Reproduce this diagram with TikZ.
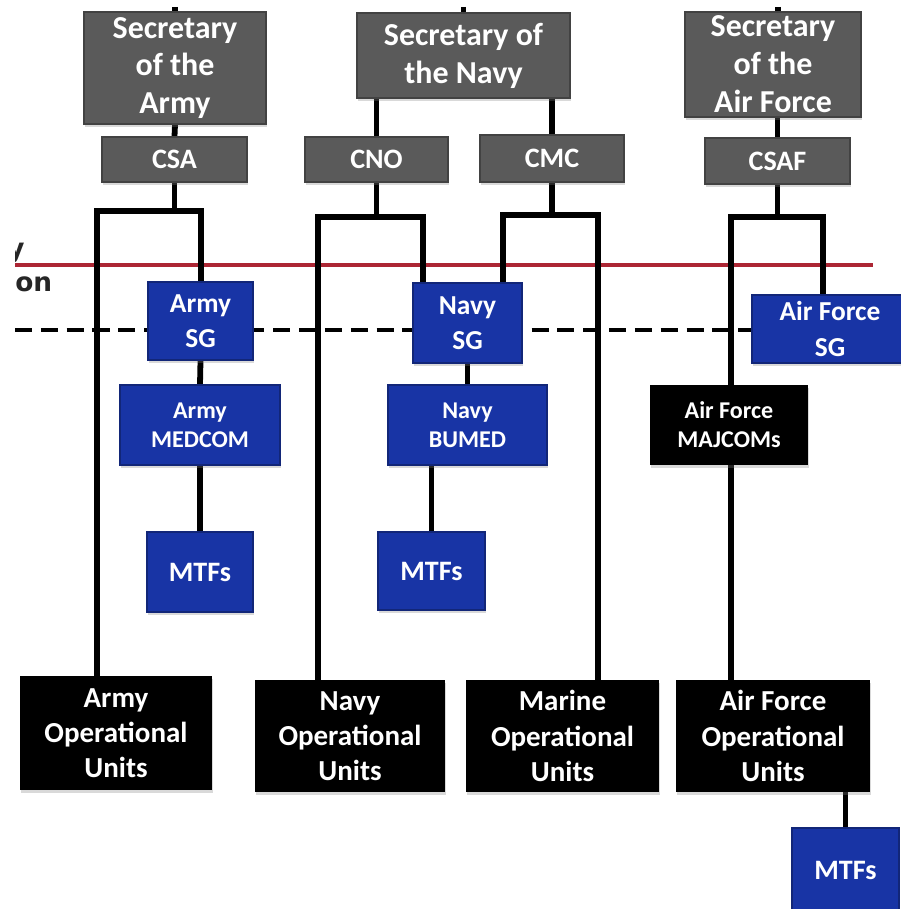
\documentclass[tikz,border=0pt]{standalone}
\usepackage{fontspec}
\setmainfont{Carlito}
\newfontfamily\sidefont{DejaVu Sans}
\usetikzlibrary{shadows,backgrounds}
\definecolor{secgray}{RGB}{90,90,90}
\definecolor{secedge}{RGB}{66,66,66}
\definecolor{sgblue}{RGB}{24,52,165}
\definecolor{sgedge}{RGB}{18,38,120}
\definecolor{policyred}{RGB}{172,38,52}
\tikzset{
  orgbox/.style   = {rectangle,inner sep=0pt,align=center,text=white,
                     drop shadow={shadow xshift=0.6pt,shadow yshift=-1.6pt,opacity=0.3}},
  sz/.style 2 args = {minimum width=#1*0.02cm,minimum height=#2*0.02cm},
  graybox/.style  = {orgbox,fill=secgray,draw=secedge,line width=0.8pt},
  bluebox/.style  = {orgbox,fill=sgblue,draw=sgedge,line width=0.8pt},
  blackbox/.style = {orgbox,fill=black},
  secfont/.style  = {font=\fontsize{18.2}{21.6}\selectfont\bfseries},
  chieffont/.style= {font=\fontsize{16}{19}\selectfont\bfseries},
  sgfont/.style   = {font=\fontsize{15.6}{20}\selectfont\bfseries},
  medfont/.style  = {font=\fontsize{13.7}{16.5}\selectfont\bfseries},
  opfont/.style   = {font=\fontsize{16.5}{20}\selectfont\bfseries},
  link/.style     = {line width=3.3pt,black},
  policyline/.style = {line width=2.1pt,policyred},
  execline/.style = {line width=2.8pt,black,dash pattern=on 9.7pt off 5pt}
}

\begin{document}
\begin{tikzpicture}[x=0.02cm,y=-0.02cm]
  \useasboundingbox (0,0) rectangle (901,909);

  % secretaries
  \node[graybox,sz={182}{112},secfont] (secA) at (175,68)     {Secretary\\of the\\Army};
  \node[graybox,sz={213}{85},secfont]  (secN) at (463.5,55.5) {Secretary of\\the Navy};
  \node[graybox,sz={176}{105},secfont] (secF) at (773,64.5)   {Secretary\\of the\\Air Force};

  % service chiefs
  \node[graybox,sz={145}{45},chieffont] (csa)  at (174.5,159.5) {CSA};
  \node[graybox,sz={143}{45},chieffont] (cno)  at (376.5,159.5) {CNO};
  \node[graybox,sz={144}{47},chieffont] (cmc)  at (552,158.5)   {CMC};
  \node[graybox,sz={145}{46},chieffont] (csaf) at (777.5,161)   {CSAF};

  % surgeons general
  \node[bluebox,sz={105}{78},sgfont]  (armySG) at (200.5,321) {Army\\SG};
  \node[bluebox,sz={109}{80},sgfont]  (navySG) at (467.5,323) {Navy\\SG};
  \node[bluebox,sz={156}{68},sgfont]  (afSG)   at (830,329)   {Air Force\\SG};

  % medical commands
  \node[bluebox,sz={160}{80},medfont]  (medcom) at (200,425)   {Army\\MEDCOM};
  \node[bluebox,sz={159}{80},medfont]  (bumed)  at (467.5,425) {Navy\\BUMED};
  \node[blackbox,sz={158}{80},medfont] (majcom) at (729,425)   {Air Force\\MAJCOMs};

  % MTFs
  \node[bluebox,sz={106}{80},chieffont] (armyMTF) at (200,572)   {MTFs};
  \node[bluebox,sz={107}{78},chieffont] (navyMTF) at (431.5,571) {MTFs};
  \node[bluebox,sz={107}{84},chieffont] (afMTF)   at (845.5,870) {MTFs};

  % operational units
  \node[blackbox,sz={192}{114},opfont] (armyOU)   at (116,733)   {Army\\Operational\\Units};
  \node[blackbox,sz={190}{112},opfont] (navyOU)   at (350,736)   {Navy\\Operational\\Units};
  \node[blackbox,sz={193}{112},opfont] (marineOU) at (562.5,736) {Marine\\Operational\\Units};
  \node[blackbox,sz={194}{112},opfont] (afOU)     at (773,736)   {Air Force\\Operational\\Units};

  % cut-off labels at the left edge
  \begin{scope}
    \clip (15,200) rectangle (80,310);
    \node[anchor=base east,inner sep=0pt,text=black!85,
          font=\sidefont\fontsize{15}{18}\selectfont\bfseries] (polLbl) at (25,257) {y};
    \node[anchor=base west,inner sep=0pt,text=black!85,
          font=\sidefont\fontsize{15}{18}\selectfont\bfseries] (exeLbl) at (15,291) {on};
  \end{scope}

  \coordinate (topA) at (175,7);
  \coordinate (topN) at (463.5,7);
  \coordinate (topF) at (778,7);
  \coordinate (aL) at (97,211);  \coordinate (aR) at (201,211);
  \coordinate (nL) at (318,217); \coordinate (nR) at (423,217);
  \coordinate (mL) at (503,215); \coordinate (mR) at (598,215);
  \coordinate (fL) at (731,217); \coordinate (fR) at (823,217);
  \coordinate (redW) at (15,265);  \coordinate (redE) at (873,265);
  \coordinate (dashW) at (15,330);

  \begin{pgfonlayer}{background}
    % boundaries
    \draw[policyline] (redW) -- (redE);
    \draw[execline] (dashW) -- (afSG.west |- dashW);
    % army
    \draw[link] (topA) -- (secA.north);
    \draw[link] (secA.south) -- (csa.north);
    \draw[link] (csa.south) -- (csa.south |- aL);
    \draw[link] (armyOU.north -| aL) -- (aL) -- (aR) -- (armySG.north -| aR);
    \draw[link] (armySG.south) -- (medcom.north);
    \draw[link] (medcom.south) -- (armyMTF.north);
    % navy and marines
    \draw[link] (topN) -- (secN.north);
    \draw[link] (secN.south -| cno.north) -- (cno.north);
    \draw[link] (secN.south -| cmc.north) -- (cmc.north);
    \draw[link] (cno.south) -- (cno.south |- nL);
    \draw[link] (navyOU.north -| nL) -- (nL) -- (nR) -- (navySG.north -| nR);
    \draw[link] (cmc.south) -- (cmc.south |- mL);
    \draw[link] (navySG.north -| mL) -- (mL) -- (mR) -- (marineOU.north -| mR);
    \draw[link] (navySG.south) -- (bumed.north);
    \draw[link] (bumed.south -| navyMTF.north) -- (navyMTF.north);
    % air force
    \draw[link] (topF) -- (secF.north -| topF);
    \draw[link] (secF.south -| csaf.north) -- (csaf.north);
    \draw[link] (csaf.south) -- (csaf.south |- fL);
    \draw[link] (majcom.north -| fL) -- (fL) -- (fR) -- (afSG.north -| fR);
    \draw[link] (majcom.south -| fL) -- (afOU.north -| fL);
    \draw[link] (afOU.south -| afMTF.north) -- (afMTF.north);
  \end{pgfonlayer}
\end{tikzpicture}
\end{document}
